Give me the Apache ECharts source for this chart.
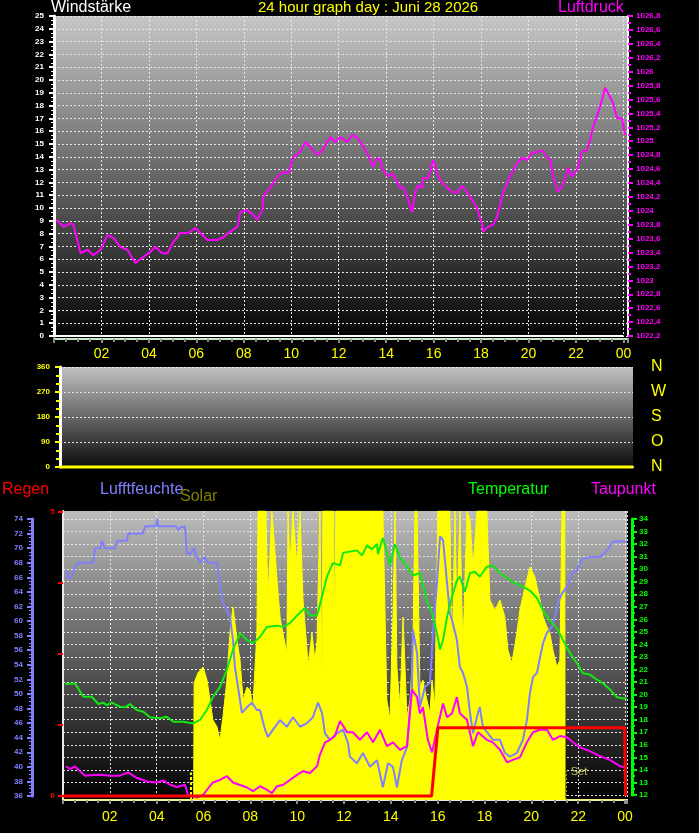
<!DOCTYPE html>
<html><head><meta charset="utf-8">
<script src="https://cdn.jsdelivr.net/npm/echarts@6/dist/echarts.min.js"></script>
<style>html,body{margin:0;padding:0;background:#000;}#c{width:699px;height:833px;}</style>
</head><body><div id="c"></div>
<script>
// ---------- data ----------
const xTickLabels = ['', '02','04','06','08','10','12','14','16','18','20','22','00'];
const dirLabels = ['N','O','S','W','N'];

const pressureHours = [0.11,0.40,0.69,0.82,1.12,1.41,1.66,1.96,2.25,2.51,2.80,3.09,3.43,3.77,4.06,4.27,4.57,4.78,5.03,5.33,5.66,5.96,6.17,6.46,6.88,7.14,7.43,7.73,7.85,8.15,8.40,8.57,8.78,8.82,9.12,9.41,9.66,9.87,10.08,10.38,10.59,10.80,11.09,11.31,11.64,11.85,12.06,12.36,12.57,12.78,12.99,13.20,13.45,13.62,13.75,13.87,14.08,14.25,14.38,14.59,14.72,14.88,15.09,15.22,15.35,15.52,15.56,15.77,15.98,16.15,16.27,16.57,16.78,16.99,17.20,17.41,17.62,17.83,18.04,18.08,18.29,18.51,18.67,18.93,19.22,19.52,19.73,19.94,20.15,20.40,20.57,20.78,20.91,21.03,21.24,21.45,21.66,21.83,22.04,22.25,22.46,22.59,22.72,22.93,23.09,23.22,23.35,23.56,23.73,23.94,24.06];
const pressureValues = [1023.87,1023.77,1023.82,1023.80,1023.39,1023.44,1023.36,1023.44,1023.65,1023.61,1023.48,1023.44,1023.25,1023.34,1023.41,1023.48,1023.39,1023.39,1023.55,1023.68,1023.68,1023.75,1023.68,1023.58,1023.58,1023.62,1023.70,1023.77,1023.98,1024.01,1023.94,1023.87,1024.01,1024.20,1024.34,1024.49,1024.56,1024.54,1024.77,1024.85,1024.99,1024.92,1024.80,1024.87,1025.06,1024.99,1025.06,1024.99,1025.09,1025.05,1024.95,1024.83,1024.63,1024.76,1024.73,1024.59,1024.49,1024.54,1024.47,1024.33,1024.34,1024.20,1023.98,1024.26,1024.37,1024.33,1024.47,1024.47,1024.73,1024.54,1024.44,1024.33,1024.27,1024.26,1024.36,1024.26,1024.16,1024.04,1023.80,1023.70,1023.77,1023.80,1023.91,1024.26,1024.49,1024.69,1024.76,1024.73,1024.83,1024.85,1024.87,1024.77,1024.73,1024.51,1024.27,1024.37,1024.62,1024.49,1024.59,1024.85,1024.87,1025.02,1025.20,1025.41,1025.59,1025.77,1025.69,1025.55,1025.33,1025.33,1025.09];

const windHours = [0, 24];
const windSpeed = [0, 0];
const windDirection = [0, 0];

const solarHours = [0,5.58,5.60,5.64,5.76,5.98,6.15,6.28,6.40,6.58,6.70,6.83,7.00,7.13,7.26,7.43,7.56,7.69,7.86,7.98,8.11,8.28,8.33,8.67,8.75,8.92,9.14,9.27,9.39,9.56,9.61,9.69,9.82,9.99,10.12,10.25,10.42,10.46,10.63,10.76,10.85,10.97,11.06,11.10,11.55,11.60,11.65,13.66,13.83,13.96,14.09,14.18,14.26,14.39,14.52,14.69,14.82,14.94,15.03,15.12,15.24,15.37,15.54,15.67,15.76,15.88,16.01,16.52,16.61,16.74,16.82,16.95,17.08,17.25,17.38,17.51,17.68,18.10,18.23,18.45,18.66,18.87,19.00,19.17,19.38,19.51,19.73,19.94,20.15,20.37,20.50,20.67,20.79,20.92,21.09,21.22,21.31,21.39,21.43,21.44,24.08];
const solarValues = [0,0,405,405,439,460,415,346,277,253,208,287,415,578,668,554,484,346,391,381,322,578,1000,1000,692,1000,761,633,578,509,1000,806,1000,806,1000,692,519,460,578,484,554,1000,426,1000,1000,580,1000,1000,346,277,633,1000,460,322,633,287,346,519,1000,1000,391,415,346,301,415,322,1000,1000,460,1000,633,1000,519,1000,969,806,1000,1000,692,657,692,633,519,474,578,657,737,806,772,692,633,599,578,519,460,484,1000,1000,1000,0,0];

const humidityHours = [0.16,0.21,0.37,0.43,0.64,1.28,1.37,1.58,1.67,1.79,2.01,2.22,2.31,2.73,2.78,3.42,3.50,3.97,4.03,4.06,4.82,4.91,5.00,5.21,5.29,5.42,5.59,5.68,5.85,6.06,6.19,6.58,6.70,6.83,7.13,7.26,7.34,7.47,7.64,7.86,8.07,8.28,8.41,8.63,8.75,8.97,9.27,9.56,9.82,10.12,10.42,10.67,10.89,11.06,11.19,11.40,11.70,11.96,12.17,12.25,12.55,12.81,13.11,13.41,13.66,13.88,14.09,14.26,14.47,14.69,14.90,14.94,15.12,15.24,15.46,15.67,15.80,15.97,16.10,16.23,16.40,16.52,16.65,16.82,16.95,17.08,17.25,17.38,17.51,17.72,17.80,17.93,18.36,18.66,18.87,19.09,19.38,19.64,19.81,19.94,20.07,20.24,20.37,20.50,20.67,20.88,21.01,21.14,21.31,21.52,21.73,21.95,22.16,22.50,22.93,23.27,23.48,24.08];
const humidityValues = [67.0,65.9,66.0,66.8,68.0,68.0,70.0,70.0,71.0,70.0,70.0,70.0,71.0,71.0,72.0,72.0,73.0,73.0,74.0,73.0,73.0,72.5,72.8,73.0,69.3,69.1,70.0,69.0,68.1,68.8,68.0,68.0,65.2,62.5,60.6,57.4,53.7,51.0,47.4,48.2,48.8,47.8,47.8,45.1,44.1,45.1,46.4,45.5,46.8,45.5,46.0,46.8,48.8,47.4,44.6,43.7,44.6,45.1,43.3,41.4,40.5,41.9,40.0,40.9,37.2,40.5,40.0,37.2,40.9,42.7,51.0,58.8,55.6,48.2,51.0,51.5,58.4,65.2,71.6,71.1,65.2,61.1,59.7,57.4,53.7,52.9,51.0,47.4,44.6,47.4,48.2,45.5,43.7,43.7,41.9,41.4,41.9,43.7,46.4,50.1,52.3,52.9,55.0,57.0,58.4,59.2,60.6,62.5,63.8,64.7,66.6,67.0,68.4,68.8,68.8,69.8,70.9,70.9];

const tempHours = [0.09,0.51,0.87,1.23,1.51,1.72,1.87,2.08,2.43,2.65,2.86,3.15,3.43,3.71,4.14,4.43,4.71,5.14,5.55,5.85,6.15,6.40,6.70,7.00,7.26,7.56,7.86,8.11,8.41,8.71,9.14,9.39,9.69,9.99,10.33,10.55,10.85,11.06,11.27,11.53,11.83,11.96,12.25,12.55,12.77,12.98,13.19,13.41,13.45,13.66,13.88,13.96,14.18,14.39,14.69,14.94,15.24,15.54,15.76,15.97,16.10,16.23,16.40,16.61,16.82,16.95,17.16,17.38,17.59,17.80,18.10,18.36,18.66,18.96,19.21,19.64,19.94,20.24,20.50,20.79,21.09,21.35,21.65,21.95,22.20,22.50,22.80,23.06,23.36,23.66,23.91,24.08];
const tempValues = [20.84,20.90,19.83,19.83,19.25,19.36,19.17,19.36,19.04,18.99,19.25,18.77,18.64,18.19,18.11,18.24,17.84,17.84,17.70,17.98,18.80,19.80,20.60,22.00,23.60,24.90,24.35,24.10,24.60,25.40,25.50,25.40,25.70,26.30,26.90,26.30,26.30,27.80,29.40,30.50,30.30,31.30,31.40,31.50,31.10,31.90,31.60,32.00,31.20,32.50,31.00,30.30,32.00,30.90,30.20,29.50,29.70,27.50,26.50,24.90,23.60,24.35,26.20,27.80,29.10,29.40,28.20,29.70,29.80,29.40,30.20,30.30,29.70,29.30,29.00,28.60,28.30,27.70,26.70,25.90,25.30,24.35,23.30,22.50,21.70,21.60,21.20,20.90,20.40,19.80,19.70,19.70];

const dewHours = [0.13,0.30,0.51,0.94,1.28,1.58,2.01,2.43,2.78,3.16,3.59,4.01,4.27,4.57,4.87,5.21,5.34,5.42,5.72,5.98,6.40,6.70,7.00,7.26,7.56,7.86,8.11,8.41,8.71,8.92,9.14,9.39,9.69,9.99,10.25,10.55,10.85,10.97,11.19,11.40,11.61,11.83,12.13,12.38,12.68,12.98,13.24,13.54,13.83,14.09,14.39,14.69,14.90,15.12,15.24,15.37,15.58,15.76,15.97,16.23,16.40,16.61,16.82,16.95,17.25,17.51,17.72,17.80,18.10,18.36,18.66,18.96,19.21,19.51,19.81,20.07,20.37,20.67,20.92,21.22,21.52,21.78,22.08,22.50,22.93,23.36,23.78,24.08];
const dewValues = [14.28,14.07,14.28,13.54,13.59,13.62,13.54,13.54,13.80,13.35,13.08,13.00,13.16,12.82,12.64,12.82,12.02,11.90,11.80,12.00,13.00,13.20,13.50,13.00,12.80,12.60,12.30,12.70,12.40,12.15,12.70,12.80,13.20,13.60,13.90,13.75,14.30,15.20,16.20,16.40,16.70,17.90,17.00,17.00,16.40,17.00,16.20,17.20,15.90,16.20,15.60,15.90,20.40,19.80,18.50,19.00,16.40,15.40,17.20,19.30,18.20,18.50,19.80,18.50,18.00,15.90,17.00,17.00,16.40,16.20,15.60,14.60,14.80,15.00,16.20,17.00,17.20,17.20,16.40,16.70,16.60,16.20,15.80,15.50,15.10,14.80,14.30,14.20];

const rainHours = [0, 15.74, 16.01, 23.99, 24.02];
const rainValues = [0, 0, 1.2, 1.2, 0];

const sunriseHour = 5.47;
const sunsetHour = 21.48;

// ---------- helpers ----------
function zip(h, v) { return h.map((x, i) => [x, v[i]]); }
const FONT = 'Liberation Sans, Arial, sans-serif';
const small = (color) => ({ color: color, fontSize: 8, fontWeight: 'bold', fontFamily: FONT });
const grad = (c0, c1) => new echarts.graphic.LinearGradient(0, 0, 0, 1, [{offset: 0, color: c0}, {offset: 1, color: c1}]);
const dotted = { show: true, lineStyle: { color: '#e6e6e6', width: 1, type: [2, 2] } };
const xFmt = (v) => {
  const k = Math.round(v / 2);
  return Math.abs(v - k * 2) < 1e-6 ? (xTickLabels[k] || '') : '';
};

const chart = echarts.init(document.getElementById('c'), null, { renderer: 'canvas' });

const titles = [
  { text: 'Windstärke', left: 51, top: 0, color: '#ffffff', size: 16 },
  { text: '24 hour graph day : Juni 28 2026', left: 258, top: 0, color: '#ffff00', size: 15 },
  { text: 'Luftdruck', left: 558, top: 0, color: '#ff00ff', size: 16 },
  { text: 'Regen', left: 2, top: 482, color: '#ff0000', size: 16 },
  { text: 'Lufftfeuchte', left: 100, top: 482, color: '#8080ff', size: 16 },
  { text: 'Solar', left: 180, top: 489, color: '#808000', size: 16 },
  { text: 'Temperatur', left: 468, top: 482, color: '#00ff00', size: 16 },
  { text: 'Taupunkt', left: 591, top: 482, color: '#ff00ff', size: 16 }
];

const hiddenX = (gi, max) => ({ type: 'value', gridIndex: gi, min: 0, max: max, show: false });

const option = {
  backgroundColor: '#000000',
  animation: false,
  title: titles.map(t => ({
    text: t.text, left: t.left, top: t.top, padding: 0,
    textStyle: { color: t.color, fontSize: t.size, fontWeight: 'normal', fontFamily: FONT }
  })),
  grid: [
    { left: 54, top: 16, width: 574, height: 320, show: true, borderWidth: 0, backgroundColor: grad('#c6c6c6', '#050505'), outerBoundsMode: 'none' },
    { left: 60, top: 367, width: 573, height: 100, show: true, borderWidth: 0, backgroundColor: grad('#c2c2c2', '#0c0c0c'), outerBoundsMode: 'none' },
    { left: 63, top: 511, width: 564, height: 289, show: true, borderWidth: 0, backgroundColor: grad('#bcbcbc', '#000000'), outerBoundsMode: 'none' },
    { left: 63, top: 519, width: 564, height: 276, show: false, outerBoundsMode: 'none' },
    { left: 63, top: 519, width: 564, height: 277, show: false, outerBoundsMode: 'none' },
    { left: 63, top: 512, width: 564, height: 284, show: false, outerBoundsMode: 'none' }
  ],
  xAxis: [
    { type: 'value', gridIndex: 0, min: 0, max: 24.19, interval: 2, offset: 3, z: 1,
      axisLine: { show: true, onZero: false, lineStyle: { color: '#c8e8c8', width: 2 } },
      axisTick: { show: true, length: 4, lineStyle: { color: '#8c8c8c', width: 2 } },
      minorTick: { show: true, splitNumber: 4, length: 3, lineStyle: { color: '#8c8c8c', width: 2 } },
      axisLabel: { color: '#ffff00', fontSize: 14, fontFamily: FONT, margin: 8, formatter: xFmt },
      splitLine: dotted },
    { type: 'value', gridIndex: 1, min: 0, max: 24, z: 1,
      axisLine: { show: true, onZero: false, lineStyle: { color: '#ffffff', width: 2 } },
      axisTick: { show: false }, axisLabel: { show: false }, splitLine: { show: false } },
    { type: 'value', gridIndex: 2, min: 0, max: 24.085, interval: 2, z: 1,
      axisLine: { show: true, onZero: false, lineStyle: { color: '#e8e8e8', width: 2 } },
      axisTick: { show: true, length: 4, lineStyle: { color: '#8c8c8c', width: 2 } },
      minorTick: { show: true, splitNumber: 4, length: 3, lineStyle: { color: '#8c8c8c', width: 2 } },
      axisLabel: { color: '#ffff00', fontSize: 14, fontFamily: FONT, margin: 10, formatter: xFmt },
      splitLine: dotted },
    hiddenX(3, 24.085),
    hiddenX(4, 24.085),
    hiddenX(5, 24.085)
  ],
  yAxis: [
    { type: 'value', gridIndex: 0, position: 'left', min: 0, max: 25, interval: 1, z: 1,
      axisLine: { show: true, onZero: false, lineStyle: { color: '#ffffff', width: 3 } },
      axisTick: { show: true, length: 5, lineStyle: { color: '#ffffff', width: 2 } },
      minorTick: { show: true, splitNumber: 3, length: 3, lineStyle: { color: '#ffffff', width: 1 } },
      axisLabel: Object.assign(small('#ffffff'), { margin: 10 }),
      splitLine: dotted },
    { type: 'value', gridIndex: 0, position: 'right', min: 1022.2, max: 1026.8, interval: 0.2, z: 1,
      axisLine: { show: true, onZero: false, lineStyle: { color: '#ffffff', width: 2 } },
      axisTick: { show: true, length: 5, lineStyle: { color: '#ff00ff', width: 2 } },
      minorTick: { show: true, splitNumber: 2, length: 3, lineStyle: { color: '#ff00ff', width: 2 } },
      axisLabel: Object.assign(small('#ff00ff'), { margin: 8, formatter: v => String(Number(v.toFixed(1))).replace('.', ',') }),
      splitLine: { show: false } },
    { type: 'value', gridIndex: 1, position: 'left', min: 0, max: 360, interval: 90, z: 1,
      axisLine: { show: true, onZero: false, lineStyle: { color: '#ffffff', width: 3 } },
      axisTick: { show: true, length: 5, lineStyle: { color: '#ffff00', width: 2 } },
      minorTick: { show: true, splitNumber: 3, length: 4, lineStyle: { color: '#ffff00', width: 2 } },
      axisLabel: Object.assign(small('#ffff00'), { margin: 10 }),
      splitLine: dotted },
    { type: 'value', gridIndex: 1, position: 'right', min: 0, max: 360, interval: 90, z: 1,
      axisLine: { show: false }, axisTick: { show: false }, splitLine: { show: false },
      axisLabel: { color: '#ffff00', fontSize: 16, fontFamily: FONT, margin: 18, formatter: v => dirLabels[Math.round(v / 90)] || '' } },
    { type: 'value', gridIndex: 2, position: 'left', min: 0, max: 1000, z: 1,
      axisLine: { show: true, onZero: false, lineStyle: { color: '#e8e8e8', width: 2 } },
      axisTick: { show: false }, axisLabel: { show: false }, splitLine: { show: false } },
    { type: 'value', gridIndex: 3, position: 'right', min: 12, max: 34, interval: 1, offset: 5, z: 1,
      axisLine: { show: true, onZero: false, lineStyle: { color: '#00ff00', width: 3 } },
      axisTick: { show: true, length: 5, lineStyle: { color: '#00ff00', width: 2 } },
      minorTick: { show: true, splitNumber: 2, length: 3, lineStyle: { color: '#00ff00', width: 2 } },
      axisLabel: Object.assign(small('#00ff00'), { margin: 7 }),
      splitLine: dotted },
    { type: 'value', gridIndex: 4, position: 'left', min: 36, max: 74, interval: 2, offset: 31, z: 1,
      axisLine: { show: true, onZero: false, lineStyle: { color: '#8080ff', width: 3 } },
      axisTick: { show: true, length: 5, lineStyle: { color: '#8080ff', width: 2 } },
      minorTick: { show: true, splitNumber: 4, length: 3, lineStyle: { color: '#8080ff', width: 1 } },
      axisLabel: Object.assign(small('#8080ff'), { margin: 9 }),
      splitLine: { show: false } },
    { type: 'value', gridIndex: 5, position: 'left', min: 0, max: 5, interval: 1.25, z: 1,
      axisLine: { show: false, onZero: false },
      axisTick: { show: true, length: 5, lineStyle: { color: '#ff0000', width: 2 } },
      axisLabel: Object.assign(small('#ff0000'), { margin: 8, formatter: v => (v === 0 || v === 5) ? String(v) : '' }),
      splitLine: { show: false } }
  ],
  series: [
    { name: 'Windstärke', type: 'line', xAxisIndex: 0, yAxisIndex: 0, data: zip(windHours, windSpeed),
      showSymbol: false, symbol: 'none', lineStyle: { color: '#ffffff', width: 2 }, clip: false, z: 3 },
    { name: 'Luftdruck', type: 'line', xAxisIndex: 0, yAxisIndex: 1, data: zip(pressureHours, pressureValues),
      showSymbol: false, symbol: 'none', lineStyle: { color: '#ff00ff', width: 2 }, z: 4 },
    { name: 'Windrichtung', type: 'line', xAxisIndex: 1, yAxisIndex: 2, data: zip(windHours, windDirection),
      showSymbol: false, symbol: 'none', lineStyle: { color: '#ffff00', width: 3 }, clip: false, z: 3 },
    { name: 'Solar', type: 'line', xAxisIndex: 2, yAxisIndex: 4, data: zip(solarHours, solarValues),
      showSymbol: false, symbol: 'none', lineStyle: { color: '#ffff00', width: 1 },
      areaStyle: { color: '#ffff00', opacity: 1 }, z: 2,
      markLine: { silent: true, symbol: 'none', animation: false, label: { show: false },
        data: [
          [{ coord: [sunriseHour, 0], lineStyle: { color: '#ffff00', width: 2, type: [3, 2] } }, { coord: [sunriseHour, 95] }],
          [{ coord: [sunsetHour, 0], lineStyle: { color: '#8a8a40', width: 1, type: [2, 2] },
             label: { show: true, position: 'end', formatter: 'Set', color: '#c8c860', fontSize: 11, fontFamily: FONT, offset: [13, 11] } },
           { coord: [sunsetHour, 100] }]
        ] } },
    { name: 'Lufftfeuchte', type: 'line', xAxisIndex: 4, yAxisIndex: 6, data: zip(humidityHours, humidityValues),
      showSymbol: false, symbol: 'none', lineStyle: { color: '#8080ff', width: 2 }, clip: false, z: 3 },
    { name: 'Temperatur', type: 'line', xAxisIndex: 3, yAxisIndex: 5, data: zip(tempHours, tempValues),
      showSymbol: false, symbol: 'none', lineStyle: { color: '#10e810', width: 2 }, clip: false, z: 4 },
    { name: 'Taupunkt', type: 'line', xAxisIndex: 3, yAxisIndex: 5, data: zip(dewHours, dewValues),
      showSymbol: false, symbol: 'none', lineStyle: { color: '#ff00ff', width: 2 }, clip: false, z: 5 },
    { name: 'Regen', type: 'line', xAxisIndex: 5, yAxisIndex: 7, data: zip(rainHours, rainValues),
      showSymbol: false, symbol: 'none', lineStyle: { color: '#ff0000', width: 3 }, clip: false, z: 6 }
  ]
};
chart.setOption(option);
</script>
</body></html>
